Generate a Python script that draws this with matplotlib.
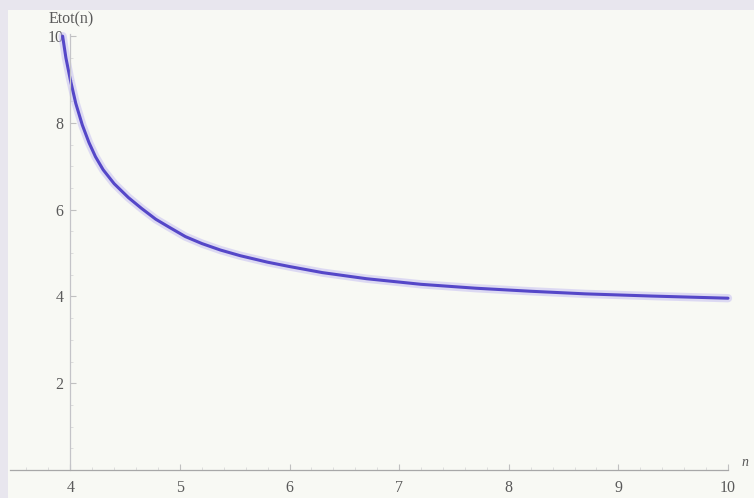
import matplotlib.pyplot as plt
from matplotlib.patches import Rectangle
from matplotlib.ticker import MultipleLocator

# values
n_vals = [3.93, 3.96, 4.0, 4.05, 4.11, 4.17, 4.23, 4.3, 4.4, 4.53, 4.65, 4.78, 4.9, 5.05,
          5.2, 5.37, 5.55, 5.8, 6.0, 6.3, 6.7, 7.2, 7.7, 8.2, 8.7, 9.3, 10.0]
etot_vals = [10.0, 9.5, 9.0, 8.45, 7.95, 7.55, 7.22, 6.92, 6.6, 6.28, 6.03, 5.78, 5.6, 5.38,
             5.22, 5.07, 4.94, 4.79, 4.69, 4.55, 4.41, 4.28, 4.19, 4.12, 4.06, 4.01, 3.96]

x_ticks = [4, 5, 6, 7, 8, 9, 10]
y_ticks = [2, 4, 6, 8, 10]

fig = plt.figure(figsize=(7.54, 4.98), dpi=100, facecolor='#e8e6ee')
# inner screen area
fig.patches.append(Rectangle((8 / 754, 0), 1, 1 - 10 / 498, transform=fig.transFigure,
                             facecolor='#f8f9f4', edgecolor='none', zorder=-1))

ax = fig.add_axes([10 / 754, 28 / 498, 718 / 754, 436 / 498])
ax.set_facecolor('none')
ax.set_zorder(2)

# soft glow + line
ax.plot(n_vals, etot_vals, color='#c2baf2', lw=6, alpha=0.5, solid_capstyle='round', clip_on=False)
ax.plot(n_vals, etot_vals, color='#5547c8', lw=2.2, solid_capstyle='round', clip_on=False)

ax.set_xlim(3.45, 10.0)
ax.set_ylim(0, 10.05)

for s in ['top', 'right']:
    ax.spines[s].set_visible(False)
ax.spines['left'].set_position(('data', 4))
ax.spines['bottom'].set_position(('data', 0))
ax.spines['left'].set_color('#c4c4c8')
ax.spines['bottom'].set_color('#a8a8a8')
for s in ['left', 'bottom']:
    ax.spines[s].set_linewidth(0.9)

ax.set_xticks(x_ticks)
ax.set_yticks(y_ticks)
ax.xaxis.set_minor_locator(MultipleLocator(0.2))
ax.yaxis.set_minor_locator(MultipleLocator(0.5))
ax.tick_params(which='major', direction='in', length=4, color='#c0c0c0', width=0.8,
               labelsize=11.5, labelcolor='#5a5a5a')
ax.tick_params(which='minor', direction='in', length=2, color='#d8d8d8', width=0.6)
ax.tick_params(axis='x', pad=7)
ax.tick_params(axis='y', pad=5)
for lab in ax.get_xticklabels() + ax.get_yticklabels():
    lab.set_family('Liberation Serif')

fig.text(71 / 754, 1 - 19 / 498, 'Etot(n)', ha='center', va='center', fontsize=11.5,
         color='#5a5a5a', family='Liberation Serif')
fig.text(745 / 754, 1 - 462 / 498, 'n', ha='center', va='center', fontsize=10,
         color='#5a5a5a', family='Liberation Serif', style='italic')

fig.savefig('out.png', dpi=100, facecolor=fig.get_facecolor())
